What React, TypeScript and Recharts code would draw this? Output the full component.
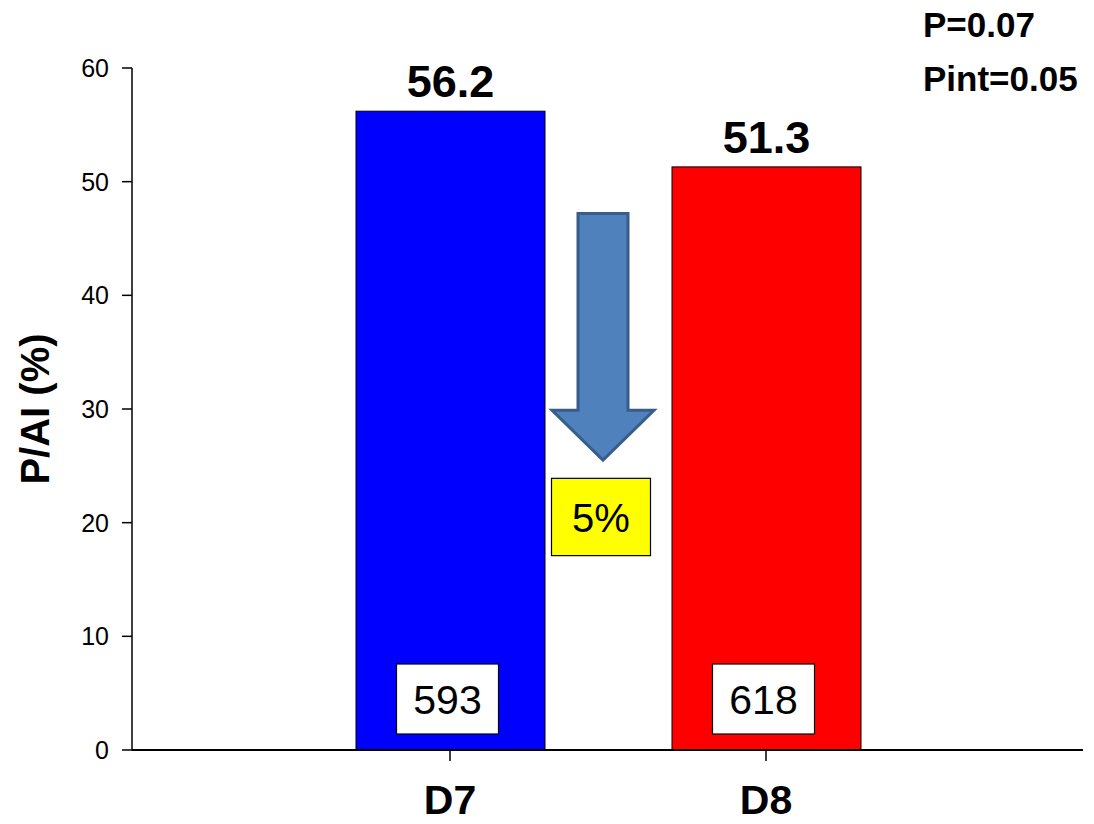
import { BarChart, Bar, XAxis, YAxis, LabelList, ReferenceArea, Label } from "recharts";

document.body.style.margin = "0";

const groups = ["D7", "D8"];
const rates = [56.2, 51.3];
const counts = [593, 618];
const barColors = ["#0000ff", "#ff0000"];
const yTicks = [0, 10, 20, 30, 40, 50, 60];
const dropLabel = "5%";
const pTexts = ["P=0.07", "Pint=0.05"];

const data = groups.map((name, i) => ({ name, rate: rates[i], n: counts[i], color: barColors[i] }));

const FONT = "Arial, 'Liberation Sans', sans-serif";

function CountBox(props: any) {
  const { x, y, width, height, value } = props;
  const cx = x + width / 2 - 3;
  const bottom = y + height - 16;
  const w = 102;
  const h = 70;
  return (
    <g>
      <rect x={cx - w / 2} y={bottom - h} width={w} height={h} fill="#fff" stroke="#000" strokeWidth={1.2} />
      <text x={cx} y={bottom - h / 2 + 1} textAnchor="middle" dominantBaseline="central" fontFamily={FONT} fontSize={41} fill="#000">
        {value}
      </text>
    </g>
  );
}

function Arrow(props: any) {
  const { x, y, width, height } = props;
  const cx = x + width / 2 - 5;
  const headH = height * (50 / 247);
  const baseY = y + height - headH;
  const sw = 25;
  const hw = 51;
  const d = `M${cx - sw},${y} L${cx + sw},${y} L${cx + sw},${baseY} L${cx + hw},${baseY} L${cx},${y + height} L${cx - hw},${baseY} L${cx - sw},${baseY} Z`;
  return <path d={d} fill="#4f81bd" stroke="#385d8a" strokeWidth={3} />;
}

function DropBox(props: any) {
  const { x, y, width, height } = props;
  const cx = x + width / 2 - 7;
  const w = 99;
  return (
    <g>
      <rect x={cx - w / 2} y={y} width={w} height={height} fill="#ffff00" stroke="#000" strokeWidth={1.2} />
      <text x={cx} y={y + height / 2 + 1} textAnchor="middle" dominantBaseline="central" fontFamily={FONT} fontSize={40} fill="#000">
        {dropLabel}
      </text>
    </g>
  );
}

function YTick(props: any) {
  const { x, y, payload } = props;
  return (
    <text x={x} y={y} textAnchor="end" dominantBaseline="central" fontFamily={FONT} fontSize={25} fill="#000">
      {payload.value}
    </text>
  );
}

function XTick(props: any) {
  const { x, y, payload } = props;
  return (
    <text x={x} y={y + 36} textAnchor="middle" fontFamily={FONT} fontSize={41} fontWeight="bold" fill="#000">
      {payload.value}
    </text>
  );
}

export default function App() {
  return (
    <div style={{ position: "relative", width: 1094, height: 824, background: "#fff" }}>
      <BarChart width={1094} height={824} data={data} margin={{ top: 68, right: 11, left: 0, bottom: 14 }}>
        <XAxis
          dataKey="name"
          padding={{ left: 160, right: 159 }}
          axisLine={{ stroke: "#000", strokeWidth: 2 }}
          tickLine={{ stroke: "#000", strokeWidth: 1.5 }}
          tickSize={11}
          tickMargin={17}
          height={60}
          tick={<XTick />}
        />
        <YAxis
          width={132}
          domain={[0, 60]}
          ticks={yTicks}
          interval={0}
          axisLine={{ stroke: "#000", strokeWidth: 1.5 }}
          tickLine={{ stroke: "#000", strokeWidth: 1.5 }}
          tickSize={10}
          tickMargin={13}
          tick={<YTick />}
        >
          <Label
            content={() => (
              <text
                x={35}
                y={409}
                transform="rotate(-90 35 409)"
                textAnchor="middle"
                dominantBaseline="central"
                fontFamily={FONT}
                fontSize={40}
                fontWeight="bold"
                fill="#000"
              >
                P/AI (%)
              </text>
            )}
          />
        </YAxis>
        <ReferenceArea x1="D7" x2="D8" y1={25.5} y2={47.2} shape={<Arrow />} ifOverflow="visible" />
        <ReferenceArea x1="D7" x2="D8" y1={17.1} y2={23.9} shape={<DropBox />} ifOverflow="visible" />
        <Bar dataKey="rate" barSize={189} stroke="#000" strokeWidth={1} isAnimationActive={false} shape={(p: any) => (
          <rect x={p.x} y={p.y} width={p.width} height={p.height} fill={p.payload.color} stroke="#000" strokeWidth={1} />
        )}>
          <LabelList dataKey="rate" position="top" offset={14} style={{ fontFamily: FONT, fontSize: 45, fontWeight: "bold", fill: "#000" }} />
          <LabelList dataKey="n" content={<CountBox />} />
        </Bar>
      </BarChart>
      {pTexts.map((t, i) => (
        <div
          key={t}
          style={{
            position: "absolute",
            left: 923,
            top: 5 + i * 54,
            fontFamily: FONT,
            fontWeight: "bold",
            fontSize: 35,
            lineHeight: "40px",
            color: "#000",
            whiteSpace: "nowrap",
          }}
        >
          {t}
        </div>
      ))}
    </div>
  );
}
